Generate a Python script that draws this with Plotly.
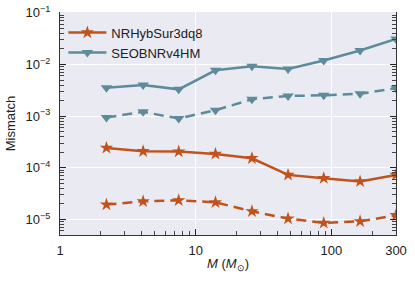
import plotly.graph_objects as go

masses = [2.2, 4.1, 7.5, 14, 26, 48, 88, 163, 300]
nrhyb_solid = [2.43e-4, 2.09e-4, 2.06e-4, 1.86e-4, 1.53e-4, 7.3e-5, 6.3e-5, 5.45e-5, 7.3e-5]
nrhyb_dashed = [1.94e-5, 2.25e-5, 2.35e-5, 2.15e-5, 1.44e-5, 1.04e-5, 8.6e-6, 9.2e-6, 1.21e-5]
seob_solid = [3.55e-3, 4.0e-3, 3.3e-3, 7.7e-3, 9.2e-3, 8.2e-3, 1.19e-2, 1.86e-2, 3.1e-2]
seob_dashed = [9.4e-4, 1.21e-3, 9.0e-4, 1.30e-3, 2.12e-3, 2.46e-3, 2.53e-3, 2.72e-3, 3.46e-3]

x_tickvals = [1, 10, 100, 300]
x_ticktext = ["1", "10", "100", "300"]
x_minor = [2, 3, 4, 5, 6, 7, 8, 9, 20, 30, 40, 50, 60, 70, 80, 90, 200]
y_tickvals = [1e-5, 1e-4, 1e-3, 1e-2, 1e-1]
y_ticktext = ["10<sup>−5</sup>", "10<sup>−4</sup>", "10<sup>−3</sup>", "10<sup>−2</sup>", "10<sup>−1</sup>"]
y_minor = [m * 10 ** e for e in range(-6, 0) for m in range(2, 10)]

ORANGE = "#c0521b"
TEAL = "#5d8b99"

fig = go.Figure()
fig.add_trace(go.Scatter(x=masses, y=nrhyb_solid, mode="lines+markers", name="NRHybSur3dq8",
                         line=dict(color=ORANGE, width=2.5),
                         marker=dict(symbol="star", size=10, color=ORANGE)))
fig.add_trace(go.Scatter(x=masses, y=seob_solid, mode="lines+markers", name="SEOBNRv4HM",
                         line=dict(color=TEAL, width=2.5),
                         marker=dict(symbol="triangle-down", size=10, color=TEAL)))
fig.add_trace(go.Scatter(x=masses, y=nrhyb_dashed, mode="lines+markers", showlegend=False,
                         line=dict(color=ORANGE, width=2.5, dash="10px,6px"),
                         marker=dict(symbol="star", size=10, color=ORANGE)))
fig.add_trace(go.Scatter(x=masses, y=seob_dashed, mode="lines+markers", showlegend=False,
                         line=dict(color=TEAL, width=2.5, dash="10px,6px"),
                         marker=dict(symbol="triangle-down", size=10, color=TEAL)))

axis_font = dict(family="Liberation Sans, Arial, sans-serif", size=13, color="#222")
yrange = [-5.30, -0.985]
fig.update_layout(
    width=415, height=281,
    margin=dict(l=60, r=19, t=12, b=46),
    paper_bgcolor="white", plot_bgcolor="#eaeaf2",
    font=axis_font,
    showlegend=True,
    legend=dict(x=0.01, y=0.975, xanchor="left", yanchor="top", bgcolor="rgba(0,0,0,0)",
                font=dict(size=13, color="#222"), itemwidth=38, tracegroupgap=0),
    xaxis=dict(type="log", range=[0, 2.4771], tickvals=x_tickvals, ticktext=x_ticktext,
               automargin=False, ticklabelstandoff=3,
               ticks="inside", ticklen=6, tickcolor="#222", showline=True, linecolor="#333",
               linewidth=1.2, gridcolor="white", gridwidth=1.2, zeroline=False,
               minor=dict(tickvals=x_minor, ticks="inside", ticklen=4, tickcolor="#444", showgrid=False),
               title=dict(text="<i>M</i> (<i>M</i><sub>⊙</sub>)", font=dict(size=13), standoff=2)),
    yaxis=dict(type="log", range=yrange, tickvals=y_tickvals, ticktext=y_ticktext,
               automargin=False, ticklabelstandoff=6,
               ticks="inside", ticklen=6, tickcolor="#222", showline=True, linecolor="#333",
               linewidth=1.2, gridcolor="white", gridwidth=1.2, zeroline=False,
               minor=dict(tickvals=y_minor, ticks="inside", ticklen=4, tickcolor="#444", showgrid=False),
               title=dict(text="Mismatch", font=dict(size=13), standoff=6)),
    yaxis2=dict(type="log", range=yrange, overlaying="y", side="right", tickvals=y_tickvals,
                automargin=False,
                showticklabels=False, ticks="inside", ticklen=6, tickcolor="#222", showline=True,
                linecolor="#333", linewidth=1.2, showgrid=False, zeroline=False,
                minor=dict(tickvals=y_minor, ticks="inside", ticklen=4, tickcolor="#444", showgrid=False)),
)
fig.add_trace(go.Scatter(x=[masses[0]], y=[seob_solid[0]], yaxis="y2", mode="markers",
                         marker=dict(opacity=0), showlegend=False, hoverinfo="skip"))
fig.write_html("out.html", config={"displayModeBar": False},
               post_script="document.body.style.margin='0px';")
